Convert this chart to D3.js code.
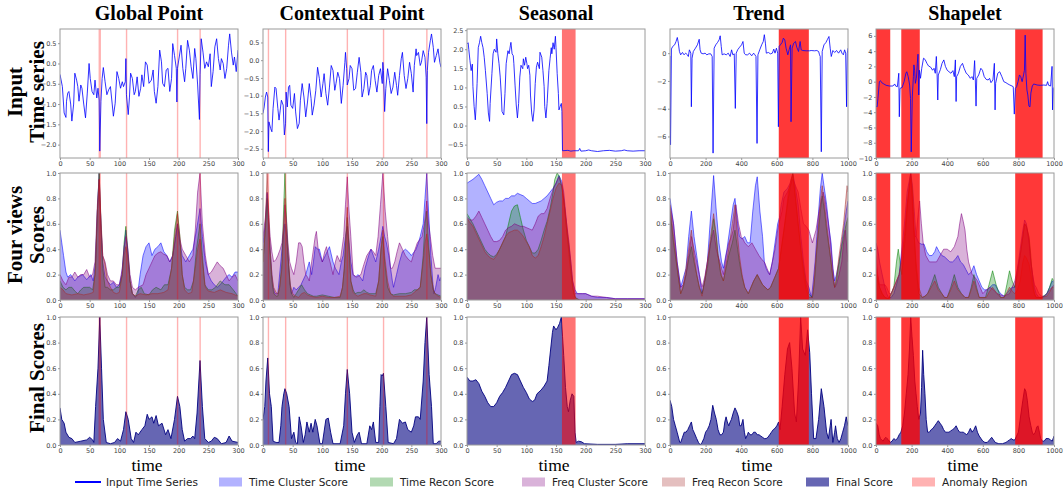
<!DOCTYPE html>
<html>
<head>
<meta charset="utf-8">
<script src="https://cdn.jsdelivr.net/npm/d3@7"></script>
<style>
body { margin: 0; background: #fff; }
.tick text { font-family: "DejaVu Sans", sans-serif; font-size: 6.5px; fill: #444; }
</style>
</head>
<body>
<div id="chart-area"></div>
<script>
// ---------------- data ----------------
const titles = ["Global Point", "Contextual Point", "Seasonal", "Trend", "Shapelet"]
const xMax = [300, 300, 300, 1000, 1000]
const xTicks = [
	[0, 50, 100, 150, 200, 250, 300], [0, 50, 100, 150, 200, 250, 300], [0, 50, 100, 150, 200, 250, 300],
	[0, 200, 400, 600, 800, 1000], [0, 200, 400, 600, 800, 1000]
]
const inputYDomain = [[-2.33, 0.85], [-2.76, 0.88], [-0.85, 2.53], [-7.55, 1.74], [-10, 6.9]]
const inputYTicks = [
	[-2.0, -1.5, -1.0, -0.5, 0.0, 0.5], [-2.5, -2.0, -1.5, -1.0, -0.5, 0.0, 0.5], [-0.5, 0.0, 0.5, 1.0, 1.5, 2.0, 2.5],
	[-6, -4, -2, 0], [-10, -8, -6, -4, -2, 0, 2, 4, 6]
]
const scoreTicks = [0.0, 0.2, 0.4, 0.6, 0.8, 1.0]

// anomaly regions [start, end]
const anomGlobal = [[65, 69], [111, 113], [197, 199], [235, 236]]
const anomContext = [[8, 10], [37, 39], [141, 143], [202, 203], [275, 276]]
const anomSeasonal = [[160, 183]]
const anomTrend = [[611, 780]]
const anomShapelet = [[0, 80], [142, 246], [782, 936]]

// input time series [t, value]
const inputGlobal = [[0,-0.27],[4,-0.57],[7,-1.22],[10,-1.33],[11,-0.93],[13,-0.73],[15,-0.69],[18,-1.0],[20,-1.42],[23,-1.0],[25,-0.24],[28,-0.41],[30,-0.57],[32,-0.93],[35,-0.53],[37,-0.61],[40,-1.0],[43,-1.34],[46,-0.73],[49,0.0],[51,-0.37],[54,-0.69],[57,-0.77],[59,-0.41],[62,-0.85],[64,-0.61],[66,-0.9],[67,-2.16],[69,-0.93],[71,-0.37],[73,-0.1],[76,-0.45],[79,-0.77],[82,-0.65],[85,-0.57],[88,-1.0],[90,-1.3],[93,-0.98],[96,-0.2],[99,-0.37],[102,-0.61],[105,-0.45],[107,-0.57],[110,-0.45],[111,0.12],[112,-0.77],[115,-1.26],[117,-0.85],[119,-0.24],[122,-0.37],[125,-0.77],[127,-0.69],[130,-0.33],[133,-0.81],[136,-0.61],[138,-0.28],[141,-0.57],[144,0.04],[147,-0.04],[150,-0.49],[154,-0.41],[157,-0.16],[159,-0.69],[162,-0.98],[165,-0.57],[168,0.33],[171,0.04],[173,-0.49],[176,-0.57],[179,-0.16],[182,-0.12],[185,-0.69],[188,-0.37],[190,0.49],[193,0.2],[196,-0.12],[197,-0.95],[198,-0.12],[201,0.16],[204,0.45],[207,-0.12],[210,-0.45],[212,-0.12],[215,0.57],[218,0.33],[221,-0.08],[224,-0.37],[227,0.37],[229,0.12],[232,-0.53],[235,-1.38],[236,-0.28],[238,0.61],[241,0.28],[244,-0.12],[247,0.04],[250,-0.08],[253,0.24],[255,-0.57],[258,-0.2],[261,0.41],[264,0.61],[267,0.12],[270,-0.16],[272,0.12],[275,0.0],[278,-0.37],[281,-0.12],[284,0.45],[286,0.73],[289,0.28],[292,-0.04],[294,0.16],[297,-0.2],[300,0.33]]
const inputContext = [[0,-1.5],[2,-1.32],[4,-1.04],[6,-0.9],[8,-1.04],[9,-2.58],[10,-1.74],[13,-1.93],[15,-2.02],[17,-1.36],[20,-0.76],[22,-0.8],[25,-1.36],[27,-1.69],[29,-1.41],[31,-1.13],[34,-1.27],[36,-2.11],[38,-1.78],[39,-0.9],[41,-1.32],[43,-0.76],[45,-0.71],[47,-1.27],[50,-1.36],[53,-0.94],[55,-1.46],[58,-1.93],[61,-1.78],[63,-1.13],[66,-0.66],[69,-1.04],[72,-1.6],[75,-1.18],[78,-0.66],[81,-1.08],[83,-1.55],[86,-1.27],[89,-0.85],[92,-0.2],[95,-0.52],[98,-1.04],[101,-0.66],[103,-0.38],[106,-0.94],[109,-1.27],[112,-0.76],[115,-0.15],[118,-0.29],[121,-0.85],[123,-0.66],[126,-0.34],[129,-0.52],[132,-1.22],[135,-0.71],[138,-0.06],[139,0.22],[141,-0.24],[142,-0.7],[145,-0.52],[147,-0.15],[150,-0.24],[153,-0.85],[156,-0.8],[159,-0.34],[162,0.08],[165,-0.34],[167,-1.04],[170,-0.8],[173,-0.34],[175,-0.43],[178,-0.99],[181,-0.71],[183,-0.29],[186,-0.15],[189,-0.57],[192,-0.9],[195,-0.43],[198,-0.24],[201,-0.66],[202,-0.06],[203,-0.29],[205,-1.45],[207,-0.8],[210,-0.24],[213,-0.57],[216,-0.94],[219,-0.76],[222,-0.34],[225,-0.71],[227,-0.99],[230,-0.43],[233,0.04],[235,0.22],[238,-0.43],[241,-0.8],[244,-0.52],[247,-0.06],[250,-0.38],[253,-0.9],[255,-0.15],[258,0.32],[259,0.13],[262,0.22],[265,-0.15],[267,-0.06],[270,0.27],[273,0.08],[275,-0.48],[276,-1.79],[277,-0.29],[279,0.22],[282,0.55],[284,0.74],[287,0.36],[289,-0.06],[292,0.13],[295,0.32],[298,-0.06],[300,-0.2]]
const inputSeasonal = [[0,2.14],[2,2.17],[3,2.0],[5,1.7],[7,1.44],[9,1.61],[10,1.02],[12,0.5],[14,0.15],[15,0.41],[17,1.1],[19,2.04],[21,2.17],[23,2.34],[25,2.17],[27,2.04],[29,1.79],[31,1.44],[34,0.84],[36,0.33],[38,0.11],[39,0.58],[42,1.36],[44,1.88],[46,2.0],[49,1.92],[50,2.27],[52,1.88],[54,1.62],[56,1.27],[58,0.75],[59,0.37],[62,0.28],[64,0.84],[66,1.62],[69,1.96],[71,1.88],[73,2.09],[74,2.18],[76,1.88],[78,1.83],[79,1.62],[81,1.06],[83,0.54],[85,0.2],[87,0.58],[89,1.27],[91,1.58],[94,1.49],[95,1.75],[97,1.58],[99,1.79],[101,1.62],[102,1.49],[104,1.58],[106,1.32],[107,0.8],[109,0.33],[111,0.11],[113,0.41],[115,1.1],[117,1.53],[119,1.66],[122,1.49],[123,1.92],[126,1.79],[128,1.44],[130,1.02],[131,0.5],[133,0.2],[135,0.58],[138,1.44],[140,1.75],[142,2.04],[143,1.88],[145,2.17],[147,2.0],[149,2.34],[150,2.04],[152,1.36],[154,0.84],[155,0.41],[157,0.5],[159,0.58],[160,0.37],[161,-0.66],[170,-0.65],[175,-0.67],[180,-0.66],[188,-0.66],[190,-0.6],[192,-0.67],[200,-0.66],[205,-0.64],[210,-0.66],[220,-0.68],[230,-0.66],[240,-0.65],[250,-0.67],[260,-0.66],[265,-0.64],[270,-0.66],[280,-0.67],[290,-0.66],[300,-0.66]]
const inputTrend = [[0,-0.2],[3,-6.6],[8,0.3],[15,0.48],[26,0.6],[34,0.84],[41,1.13],[47,0.72],[53,0.12],[60,-0.12],[70,0.05],[79,-0.12],[88,0],[98,-0.12],[103,-0.24],[109,0.24],[117,0],[120,-3.86],[124,-0.36],[131,0.12],[143,0.36],[154,0.6],[164,1.0],[169,0.24],[175,0],[186,-0.05],[197,0],[207,-0.12],[218,-0.05],[229,-0.05],[237,-0.24],[242,-7.2],[248,0.36],[257,0.6],[267,0.77],[276,0.96],[282,1.25],[288,0.48],[293,-0.12],[304,-0.05],[316,-0.12],[327,0],[338,-0.24],[346,0.24],[353,-0.12],[361,-0.05],[367,-3.98],[372,0],[380,0.24],[391,0.43],[402,0.6],[410,0.84],[417,0],[425,-0.12],[436,-0.12],[447,0],[459,-0.19],[470,0],[477,-0.12],[483,-0.24],[489,-6.5],[494,-0.12],[504,0.24],[515,0.6],[524,0.84],[530,1.33],[536,0.72],[541,0],[553,0.05],[564,-0.05],[575,0],[583,0.29],[590,0],[598,0.36],[605,0],[609,-5.3],[613,0.48],[620,0.6],[630,0.77],[637,1.08],[645,0.96],[652,0.36],[662,-0.12],[669,0.24],[677,0.6],[680,-4.94],[686,0.36],[695,0.72],[705,0.84],[712,0.43],[722,0.12],[731,0.84],[737,0.24],[746,0.19],[765,0.17],[784,0.17],[793,0.19],[812,0.17],[825,0.19],[835,0.12],[840,-0.12],[844,-0.24],[850,-7.1],[855,0.12],[865,0.6],[876,0.77],[885,1.0],[893,1.2],[900,0.36],[906,-0.24],[915,0.19],[925,0.05],[936,0.19],[947,0],[959,0.24],[966,0],[974,-0.12],[981,0.24],[987,0],[992,-3.86],[996,0],[1000,0.36]]
const inputShapelet = [[0,-3.2],[6,-3.3],[11,-2.2],[19,0],[25,0.13],[32,-0.13],[44,-0.3],[57,-0.48],[76,-0.57],[95,-0.57],[105,-0.3],[110,-0.57],[120,-0.66],[128,1.1],[131,-4.6],[135,-0.88],[147,-0.75],[158,0],[168,1.1],[173,1.3],[181,0.66],[189,-0.44],[194,-2.2],[198,-9.2],[204,-2.0],[210,0.66],[213,2.2],[217,1.5],[221,-0.22],[227,0.44],[232,2.4],[236,3.6],[240,-1.75],[244,1.5],[250,0.44],[257,1.75],[267,3.07],[276,2.9],[286,2.4],[295,2.06],[307,1.9],[318,1.5],[326,1.75],[333,1.1],[339,3.3],[343,1.1],[347,-2.4],[350,0.88],[362,1.6],[371,2.4],[381,2.85],[390,2.0],[400,1.5],[410,1.3],[421,1.1],[432,1.45],[440,0.66],[446,2.85],[450,-2.6],[453,0.66],[463,1.1],[474,2.0],[486,2.4],[495,1.75],[507,1.1],[518,0.88],[530,0.44],[539,0.66],[547,0.22],[554,2.76],[558,0.22],[562,-3.2],[566,0.44],[577,0.88],[589,1.75],[598,1.5],[608,0.66],[619,0.3],[630,0.22],[638,0.44],[646,-0.13],[657,0.22],[665,2.4],[669,-3.7],[672,-0.22],[684,1.1],[695,1.3],[707,0.66],[718,0],[730,-0.13],[741,-0.3],[752,-0.44],[764,-0.57],[771,-0.66],[777,-4.25],[783,-0.88],[790,-0.66],[798,0],[806,0.88],[813,0.66],[821,0],[829,0.88],[834,1.5],[838,6.1],[842,1.1],[848,-1.1],[853,-1.75],[859,-3.2],[865,-3.3],[870,-1.5],[878,-0.57],[886,-0.3],[905,-0.44],[924,-0.48],[943,-0.44],[958,-0.48],[964,0],[970,-0.48],[981,-0.57],[989,2.0],[992,-3.7],[996,-0.88],[1000,-0.75]]

// four view scores: time cluster, time recon, freq cluster, freq recon
const gTimeCluster = [[0,0.55],[3,0.45],[6,0.35],[10,0.22],[13,0.18],[18,0.2],[25,0.15],[30,0.18],[38,0.2],[45,0.16],[52,0.2],[56,0.15],[60,0.3],[63,0.7],[66,1.0],[69,0.6],[72,0.3],[76,0.18],[80,0.15],[85,0.12],[90,0.14],[95,0.1],[100,0.12],[104,0.2],[108,0.4],[111,0.55],[114,0.4],[118,0.15],[122,0.05],[127,0.02],[131,0.05],[135,0.2],[140,0.35],[145,0.42],[150,0.45],[155,0.35],[160,0.4],[165,0.42],[170,0.45],[175,0.38],[180,0.35],[185,0.3],[190,0.35],[195,0.5],[198,0.6],[202,0.45],[206,0.35],[212,0.3],[218,0.35],[224,0.4],[230,0.55],[236,0.72],[240,0.5],[245,0.3],[250,0.2],[255,0.15],[260,0.12],[265,0.1],[270,0.12],[275,0.15],[280,0.18],[285,0.2],[290,0.18],[295,0.22],[300,0.22]]
const gTimeRecon = [[0,0.15],[5,0.1],[10,0.08],[15,0.1],[20,0.1],[25,0.07],[30,0.05],[35,0.08],[40,0.1],[45,0.1],[50,0.1],[55,0.08],[59,0.2],[63,0.7],[66,1.0],[69,0.6],[72,0.25],[76,0.1],[80,0.1],[85,0.08],[90,0.08],[95,0.1],[100,0.1],[105,0.2],[108,0.45],[111,0.58],[114,0.4],[118,0.15],[122,0.05],[127,0.03],[132,0.08],[137,0.1],[142,0.05],[150,0.04],[156,0.08],[162,0.1],[170,0.08],[176,0.12],[182,0.12],[188,0.25],[193,0.55],[198,0.7],[202,0.5],[206,0.2],[210,0.1],[215,0.08],[220,0.08],[225,0.15],[230,0.4],[236,0.6],[240,0.35],[244,0.12],[250,0.08],[256,0.08],[262,0.1],[270,0.15],[278,0.12],[285,0.12],[292,0.08],[300,0.03]]
const gFreqCluster = [[0,0.2],[5,0.15],[10,0.12],[15,0.18],[20,0.18],[25,0.22],[30,0.18],[35,0.2],[40,0.2],[45,0.24],[50,0.18],[55,0.2],[59,0.3],[63,0.75],[66,0.95],[69,0.6],[72,0.35],[76,0.3],[80,0.2],[85,0.15],[90,0.15],[95,0.12],[100,0.12],[105,0.25],[108,0.42],[111,0.5],[114,0.42],[118,0.2],[122,0.1],[127,0.08],[132,0.1],[140,0.12],[145,0.2],[150,0.25],[155,0.3],[160,0.35],[165,0.37],[170,0.38],[175,0.36],[180,0.35],[185,0.3],[190,0.35],[195,0.5],[198,0.6],[202,0.48],[206,0.4],[212,0.35],[218,0.3],[224,0.35],[228,0.55],[232,0.85],[236,1.0],[240,0.6],[245,0.35],[250,0.2],[255,0.22],[260,0.26],[265,0.3],[270,0.27],[275,0.25],[280,0.2],[285,0.15],[290,0.18],[295,0.2],[300,0.15]]
const gFreqRecon = [[0,0.1],[5,0.08],[10,0.05],[20,0.04],[30,0.05],[40,0.04],[50,0.05],[56,0.06],[60,0.25],[63,0.7],[66,0.95],[69,0.65],[72,0.35],[76,0.28],[80,0.15],[85,0.1],[90,0.06],[95,0.05],[100,0.06],[105,0.2],[108,0.35],[111,0.42],[114,0.35],[118,0.15],[122,0.05],[127,0.03],[135,0.05],[145,0.04],[155,0.05],[165,0.05],[175,0.06],[182,0.08],[188,0.25],[193,0.5],[198,0.68],[202,0.5],[206,0.2],[210,0.08],[216,0.05],[222,0.06],[228,0.25],[232,0.4],[236,0.48],[240,0.3],[245,0.1],[250,0.07],[260,0.06],[270,0.08],[280,0.06],[290,0.05],[300,0.03]]

const cTimeCluster = [[0,0.45],[4,0.6],[7,0.84],[10,0.55],[12,0.4],[15,0.2],[17,0.1],[20,0.05],[25,0.05],[30,0.3],[34,0.5],[37,0.6],[40,0.5],[42,0.35],[45,0.15],[48,0.05],[52,0.1],[56,0.08],[60,0.1],[64,0.12],[67,0.15],[72,0.2],[78,0.3],[82,0.2],[85,0.3],[88,0.42],[92,0.4],[95,0.4],[100,0.3],[105,0.35],[108,0.38],[112,0.42],[118,0.3],[122,0.25],[128,0.2],[132,0.3],[135,0.35],[139,0.5],[142,0.58],[145,0.45],[148,0.3],[152,0.2],[156,0.18],[160,0.2],[164,0.18],[168,0.15],[172,0.25],[175,0.3],[178,0.35],[182,0.4],[186,0.35],[190,0.3],[195,0.4],[199,0.5],[202,0.58],[205,0.5],[208,0.45],[212,0.35],[215,0.25],[218,0.15],[220,0.1],[225,0.2],[230,0.3],[235,0.38],[240,0.4],[245,0.38],[250,0.35],[255,0.38],[258,0.4],[262,0.45],[265,0.5],[270,0.6],[273,0.8],[276,1.0],[279,0.7],[283,0.35],[286,0.15],[288,0.05],[291,0.1],[295,0.2],[298,0.15],[300,0.18]]
const cTimeRecon = [[0,0.3],[4,0.55],[7,0.8],[10,0.55],[12,0.35],[15,0.15],[18,0.05],[22,0.03],[25,0.03],[28,0.1],[32,0.3],[35,0.75],[37,1.0],[40,0.6],[43,0.3],[46,0.1],[48,0.05],[52,0.02],[56,0.05],[60,0.08],[65,0.12],[70,0.08],[75,0.05],[80,0.04],[85,0.03],[90,0.03],[100,0.04],[110,0.03],[120,0.02],[130,0.02],[134,0.1],[137,0.25],[140,0.5],[142,0.65],[145,0.4],[148,0.15],[152,0.08],[155,0.05],[160,0.06],[165,0.06],[170,0.08],[175,0.06],[180,0.05],[190,0.05],[195,0.15],[199,0.4],[202,0.5],[205,0.3],[210,0.1],[215,0.05],[220,0.04],[230,0.05],[240,0.05],[250,0.06],[255,0.08],[260,0.08],[265,0.1],[270,0.35],[273,0.6],[276,0.7],[279,0.45],[283,0.2],[287,0.08],[290,0.05],[295,0.04],[300,0.03]]
const cFreqCluster = [[0,0.5],[4,0.65],[7,0.85],[10,0.65],[12,0.5],[15,0.38],[18,0.3],[22,0.32],[25,0.35],[29,0.4],[32,0.45],[35,0.6],[37,0.75],[40,0.6],[42,0.45],[45,0.3],[48,0.25],[52,0.2],[56,0.3],[60,0.45],[63,0.45],[66,0.42],[69,0.3],[72,0.2],[75,0.18],[78,0.15],[82,0.3],[85,0.4],[88,0.5],[90,0.54],[93,0.4],[96,0.35],[100,0.3],[104,0.38],[107,0.42],[110,0.35],[113,0.3],[118,0.2],[122,0.3],[125,0.35],[130,0.3],[133,0.4],[136,0.5],[139,0.75],[142,0.97],[145,0.7],[148,0.5],[152,0.2],[158,0.18],[165,0.2],[170,0.28],[175,0.35],[182,0.4],[186,0.38],[190,0.35],[194,0.5],[198,0.75],[202,1.0],[206,0.7],[210,0.5],[215,0.25],[218,0.25],[222,0.3],[226,0.38],[230,0.45],[235,0.4],[240,0.35],[245,0.32],[250,0.3],[255,0.38],[260,0.45],[265,0.48],[268,0.5],[272,0.6],[276,0.78],[279,0.6],[282,0.5],[286,0.35],[290,0.25],[295,0.25],[300,0.25]]
const cFreqRecon = [[0,0.3],[4,0.6],[7,1.0],[10,0.65],[12,0.4],[15,0.2],[18,0.1],[22,0.06],[25,0.05],[28,0.1],[32,0.25],[35,0.6],[37,0.8],[40,0.5],[43,0.3],[46,0.12],[50,0.05],[55,0.03],[60,0.02],[65,0.05],[70,0.06],[75,0.04],[80,0.03],[90,0.02],[100,0.03],[110,0.02],[120,0.02],[130,0.03],[134,0.1],[137,0.25],[140,0.55],[142,0.73],[145,0.45],[148,0.15],[152,0.06],[156,0.04],[160,0.03],[165,0.04],[170,0.05],[175,0.05],[180,0.04],[190,0.03],[195,0.15],[199,0.42],[202,0.55],[205,0.35],[210,0.15],[215,0.05],[220,0.03],[230,0.03],[240,0.03],[250,0.04],[255,0.06],[260,0.08],[265,0.1],[270,0.3],[273,0.45],[276,0.52],[279,0.4],[283,0.2],[287,0.08],[290,0.05],[295,0.03],[300,0.02]]

const sTimeCluster = [[0,0.92],[10,0.95],[20,0.99],[25,0.95],[30,0.9],[35,0.85],[40,0.8],[45,0.75],[50,0.77],[55,0.78],[60,0.78],[65,0.8],[70,0.8],[75,0.82],[80,0.82],[85,0.84],[90,0.83],[95,0.82],[100,0.8],[105,0.78],[110,0.76],[115,0.76],[120,0.77],[125,0.78],[130,0.8],[135,0.82],[140,0.85],[145,0.88],[150,0.92],[155,0.98],[160,0.93],[163,0.85],[166,0.7],[170,0.5],[175,0.3],[178,0.15],[182,0.08],[186,0.05],[195,0.05],[200,0.05],[210,0.03],[220,0.02],[235,0.02],[250,0.01],[270,0.01],[300,0.01]]
const sTimeRecon = [[0,0.68],[5,0.64],[10,0.6],[15,0.55],[20,0.5],[25,0.45],[30,0.4],[35,0.37],[40,0.35],[45,0.34],[50,0.36],[55,0.4],[60,0.45],[65,0.5],[70,0.6],[75,0.7],[80,0.74],[85,0.75],[90,0.65],[95,0.55],[100,0.47],[105,0.42],[110,0.37],[115,0.37],[120,0.4],[125,0.47],[130,0.55],[135,0.62],[140,0.72],[145,0.85],[148,0.95],[152,1.0],[156,0.97],[160,0.88],[164,0.75],[168,0.55],[172,0.4],[175,0.25],[178,0.1],[182,0.02],[190,0],[300,0]]
const sFreqCluster = [[0,0.65],[5,0.63],[10,0.63],[15,0.66],[20,0.7],[25,0.65],[30,0.6],[35,0.55],[40,0.5],[45,0.46],[50,0.46],[55,0.47],[60,0.5],[65,0.55],[70,0.57],[75,0.58],[80,0.6],[85,0.59],[90,0.58],[95,0.58],[100,0.57],[105,0.56],[110,0.55],[115,0.6],[120,0.66],[125,0.68],[130,0.68],[135,0.72],[140,0.8],[145,0.87],[150,0.92],[155,0.97],[160,0.9],[164,0.75],[168,0.6],[172,0.45],[175,0.3],[178,0.15],[182,0.05],[186,0.05],[195,0.05],[200,0.05],[210,0.03],[220,0.03],[235,0.02],[250,0.01],[270,0.01],[300,0.01]]
const sFreqRecon = [[0,0.64],[5,0.61],[10,0.58],[15,0.53],[20,0.48],[25,0.43],[30,0.38],[35,0.35],[40,0.33],[45,0.32],[50,0.35],[55,0.4],[60,0.45],[65,0.5],[70,0.53],[75,0.54],[80,0.55],[85,0.55],[90,0.53],[95,0.5],[100,0.46],[105,0.42],[110,0.35],[115,0.33],[120,0.35],[125,0.42],[130,0.5],[135,0.6],[140,0.7],[145,0.8],[150,0.88],[155,0.92],[160,0.9],[163,0.8],[166,0.65],[170,0.45],[173,0.3],[176,0.18],[180,0.05],[184,0.01],[190,0],[300,0]]

const tTimeCluster = [[0,0.8],[20,0.6],[40,0.3],[60,0.1],[90,0.25],[105,0.5],[120,0.7],[135,0.5],[150,0.35],[165,0.2],[180,0.05],[195,0.15],[210,0.3],[225,0.6],[245,0.98],[260,0.7],[275,0.45],[290,0.3],[300,0.25],[320,0.4],[340,0.6],[355,0.75],[365,0.8],[380,0.6],[390,0.5],[405,0.48],[420,0.5],[435,0.45],[450,0.45],[465,0.7],[480,0.9],[490,0.97],[505,0.7],[520,0.5],[530,0.3],[540,0.25],[550,0.22],[560,0.2],[575,0.3],[590,0.45],[605,0.6],[615,0.65],[625,0.75],[640,0.85],[660,0.88],[675,0.92],[690,1.0],[705,0.88],[720,0.75],[735,0.5],[750,0.3],[765,0.15],[780,0.1],[795,0.02],[805,0.15],[815,0.3],[825,0.5],[835,0.7],[845,0.88],[855,1.0],[865,0.9],[880,0.75],[895,0.55],[905,0.45],[915,0.25],[925,0.15],[935,0.2],[950,0.3],[965,0.45],[975,0.55],[990,0.7],[1000,0.78]]
const tTimeRecon = [[0,0.7],[20,0.45],[45,0.2],[60,0.05],[75,0.1],[90,0.2],[105,0.32],[120,0.42],[135,0.3],[150,0.2],[165,0.1],[180,0.05],[195,0.15],[210,0.25],[228,0.45],[245,0.64],[260,0.5],[270,0.35],[285,0.2],[300,0.15],[315,0.25],[330,0.35],[350,0.45],[365,0.55],[380,0.4],[390,0.3],[405,0.18],[420,0.1],[440,0.05],[455,0.1],[470,0.15],[490,0.2],[505,0.16],[520,0.12],[535,0.1],[550,0.08],[565,0.1],[580,0.15],[595,0.2],[610,0.25],[625,0.4],[640,0.55],[655,0.7],[665,0.8],[680,0.92],[690,1.0],[705,0.8],[720,0.6],[735,0.4],[750,0.25],[765,0.12],[780,0.05],[800,0.02],[808,0.1],[815,0.2],[825,0.4],[835,0.55],[845,0.7],[855,0.82],[868,0.7],[880,0.55],[895,0.4],[905,0.3],[915,0.18],[925,0.1],[935,0.15],[950,0.3],[965,0.42],[975,0.5],[990,0.6],[1000,0.65]]
const tFreqCluster = [[0,0.75],[20,0.6],[40,0.3],[60,0.1],[75,0.12],[90,0.2],[105,0.35],[120,0.5],[135,0.4],[150,0.3],[165,0.2],[180,0.1],[195,0.18],[210,0.3],[228,0.45],[245,0.55],[260,0.4],[280,0.3],[300,0.2],[315,0.35],[330,0.45],[345,0.5],[355,0.55],[370,0.75],[385,0.6],[400,0.5],[410,0.48],[420,0.45],[440,0.42],[460,0.45],[480,0.4],[500,0.35],[515,0.32],[530,0.3],[545,0.25],[560,0.2],[575,0.3],[590,0.4],[605,0.55],[615,0.62],[630,0.7],[640,0.8],[660,0.85],[675,0.9],[690,0.95],[705,0.9],[720,0.85],[735,0.72],[750,0.6],[765,0.58],[780,0.55],[790,0.5],[800,0.45],[810,0.5],[820,0.55],[835,0.68],[845,0.75],[860,0.85],[870,0.8],[880,0.7],[895,0.55],[905,0.4],[915,0.25],[925,0.1],[935,0.12],[950,0.2],[965,0.3],[975,0.45],[985,0.55],[1000,0.3]]
const tFreqRecon = [[0,0.75],[20,0.5],[45,0.2],[60,0.05],[75,0.12],[90,0.25],[105,0.4],[120,0.55],[135,0.35],[150,0.2],[165,0.1],[180,0.03],[195,0.15],[210,0.3],[228,0.5],[245,0.68],[260,0.5],[270,0.35],[285,0.22],[300,0.15],[315,0.28],[330,0.4],[350,0.6],[365,0.75],[380,0.5],[390,0.35],[405,0.2],[420,0.1],[440,0.05],[455,0.1],[470,0.15],[490,0.2],[505,0.16],[520,0.12],[535,0.1],[550,0.08],[565,0.1],[580,0.15],[595,0.2],[610,0.25],[625,0.4],[640,0.55],[655,0.72],[665,0.85],[680,0.95],[690,0.98],[705,0.8],[720,0.6],[735,0.4],[750,0.2],[765,0.08],[780,0.02],[800,0.02],[808,0.12],[815,0.25],[825,0.42],[835,0.6],[845,0.78],[855,0.9],[868,0.75],[880,0.6],[895,0.42],[905,0.3],[915,0.18],[925,0.1],[935,0.18],[950,0.35],[965,0.5],[975,0.6],[985,0.75],[995,0.9],[1000,0.85]]

const hTimeCluster = [[0,0.45],[10,0.4],[20,0.3],[35,0.2],[50,0.1],[60,0.05],[70,0.02],[85,0.02],[100,0.05],[115,0.12],[130,0.2],[145,0.4],[160,0.6],[175,0.85],[195,1.0],[205,0.9],[215,0.7],[225,0.5],[240,0.45],[255,0.44],[270,0.44],[285,0.38],[300,0.35],[315,0.35],[330,0.38],[340,0.42],[355,0.38],[370,0.35],[385,0.34],[400,0.32],[415,0.3],[430,0.3],[445,0.32],[460,0.35],[475,0.3],[490,0.28],[505,0.24],[520,0.2],[535,0.22],[550,0.27],[565,0.2],[580,0.15],[595,0.1],[610,0.08],[625,0.08],[640,0.1],[655,0.12],[670,0.12],[685,0.08],[700,0.05],[720,0.03],[735,0.05],[750,0.08],[765,0.1],[780,0.1],[795,0.25],[810,0.4],[825,0.55],[835,0.63],[845,0.6],[860,0.45],[870,0.3],[880,0.2],[890,0.1],[900,0.05],[915,0.02],[930,0.02],[945,0.03],[960,0.05],[975,0.1],[990,0.15],[1000,0.14]]
const hTimeRecon = [[0,0.2],[10,0.15],[20,0.1],[35,0.05],[50,0.02],[70,0.01],[85,0.05],[100,0.1],[115,0.3],[125,0.4],[135,0.3],[145,0.2],[155,0.35],[165,0.5],[180,0.8],[195,1.0],[205,0.85],[215,0.5],[225,0.25],[240,0.05],[260,0.02],[275,0.03],[290,0.05],[310,0.12],[330,0.2],[350,0.1],[370,0.05],[385,0.02],[400,0.02],[420,0.1],[440,0.2],[460,0.1],[480,0.05],[500,0.02],[520,0.02],[535,0.1],[550,0.2],[565,0.1],[580,0.02],[600,0.02],[615,0.02],[635,0.12],[655,0.23],[675,0.12],[700,0.02],[720,0.02],[735,0.12],[750,0.23],[765,0.15],[780,0.1],[795,0.2],[810,0.35],[825,0.5],[835,0.6],[845,0.58],[860,0.5],[870,0.35],[880,0.15],[890,0.05],[900,0.02],[930,0.02],[960,0.05],[975,0.1],[990,0.17],[1000,0.15]]
const hFreqCluster = [[0,0.35],[10,0.2],[20,0.12],[35,0.12],[50,0.12],[60,0.1],[75,0.05],[85,0.05],[100,0.1],[115,0.15],[130,0.2],[145,0.35],[160,0.5],[175,0.75],[195,1.0],[203,0.8],[210,0.6],[218,0.5],[225,0.5],[235,0.65],[245,0.78],[255,0.6],[265,0.45],[280,0.35],[300,0.3],[320,0.3],[340,0.3],[360,0.35],[380,0.4],[400,0.4],[420,0.38],[440,0.42],[460,0.5],[470,0.6],[480,0.68],[490,0.62],[500,0.55],[510,0.4],[520,0.3],[530,0.25],[540,0.2],[555,0.18],[570,0.15],[585,0.1],[600,0.05],[620,0.08],[640,0.1],[660,0.08],[680,0.05],[700,0.04],[720,0.03],[735,0.04],[750,0.05],[765,0.1],[780,0.15],[795,0.25],[810,0.35],[825,0.5],[835,0.6],[845,0.58],[860,0.48],[870,0.3],[880,0.2],[890,0.12],[900,0.1],[915,0.05],[930,0.03],[945,0.03],[960,0.05],[975,0.08],[990,0.1],[1000,0.12]]
const hFreqRecon = [[0,0.25],[10,0.18],[20,0.1],[35,0.05],[50,0.02],[70,0.01],[85,0.05],[100,0.1],[115,0.15],[130,0.2],[145,0.3],[160,0.5],[175,0.75],[195,0.95],[205,0.8],[215,0.5],[225,0.3],[240,0.1],[260,0.02],[275,0.03],[290,0.05],[310,0.1],[330,0.15],[350,0.08],[370,0.05],[385,0.02],[400,0.02],[420,0.08],[440,0.15],[460,0.08],[480,0.05],[500,0.02],[520,0.02],[535,0.08],[550,0.15],[565,0.08],[580,0.02],[600,0.02],[620,0.02],[635,0.06],[655,0.1],[675,0.06],[700,0.02],[720,0.02],[735,0.06],[750,0.1],[765,0.07],[780,0.05],[795,0.08],[810,0.15],[825,0.3],[835,0.35],[845,0.33],[860,0.28],[870,0.2],[880,0.1],[890,0.05],[900,0.02],[930,0.02],[960,0.03],[975,0.06],[990,0.1],[1000,0.1]]

// final scores
const gFinal = [[0,0.29],[3,0.2],[7,0.17],[10,0.1],[15,0.06],[20,0.05],[25,0.02],[35,0.03],[45,0.04],[50,0.06],[55,0.04],[57,0.02],[60,0.3],[64,0.6],[67,1.0],[70,0.6],[73,0.2],[78,0.02],[85,0.01],[92,0.02],[97,0.05],[102,0.03],[107,0.12],[111,0.26],[115,0.2],[120,0.05],[124,0.02],[128,0.1],[132,0.08],[138,0.12],[143,0.15],[147,0.24],[150,0.2],[155,0.22],[158,0.17],[162,0.23],[166,0.15],[172,0.17],[178,0.08],[182,0.12],[187,0.05],[193,0.2],[198,0.38],[202,0.3],[206,0.12],[210,0.03],[215,0.05],[220,0.05],[224,0.07],[227,0.05],[231,0.25],[236,0.66],[240,0.3],[244,0.05],[250,0.02],[255,0.03],[260,0.06],[265,0.05],[272,0.01],[280,0.02],[285,0.07],[290,0.03],[300,0.02]]
const cFinal = [[0,0.2],[3,0.3],[5,0.5],[8,0.68],[11,0.4],[14,0.3],[17,0.03],[22,0.02],[27,0.02],[30,0.15],[32,0.3],[35,0.4],[37,0.44],[40,0.4],[44,0.3],[48,0.05],[52,0.1],[55,0.02],[58,0.01],[61,0.22],[64,0.15],[68,0.02],[71,0.08],[74,0.18],[78,0.1],[81,0.17],[84,0.1],[88,0.2],[91,0.15],[96,0.01],[100,0.01],[106,0.2],[110,0.21],[114,0.1],[118,0.01],[130,0.01],[136,0.15],[139,0.4],[142,0.59],[146,0.4],[150,0.1],[154,0.02],[159,0.08],[162,0.1],[166,0.01],[175,0.01],[180,0.15],[183,0.12],[186,0.18],[190,0.02],[195,0.02],[197,0.3],[199,0.55],[201,0.54],[203,0.56],[207,0.3],[211,0.02],[220,0.01],[225,0.05],[230,0.2],[235,0.17],[240,0.18],[244,0.12],[250,0.1],[254,0.15],[257,0.22],[262,0.22],[265,0.2],[270,0.5],[273,0.8],[276,1.0],[280,0.55],[284,0.3],[287,0.01],[292,0.01],[296,0.03],[300,0.03]]
const sFinal = [[0,0.53],[5,0.5],[10,0.5],[15,0.51],[20,0.48],[25,0.42],[30,0.38],[35,0.33],[40,0.3],[45,0.3],[50,0.33],[55,0.38],[60,0.41],[65,0.45],[70,0.5],[75,0.55],[80,0.56],[85,0.55],[90,0.5],[95,0.45],[100,0.41],[105,0.36],[110,0.34],[114,0.35],[118,0.4],[125,0.43],[130,0.46],[135,0.5],[138,0.62],[141,0.75],[144,0.88],[146,0.93],[150,0.9],[153,0.92],[156,0.95],[159,1.0],[161,0.85],[163,0.7],[166,0.45],[169,0.3],[171,0.26],[174,0.35],[177,0.4],[180,0.38],[182,0.1],[184,0.02],[188,0.03],[193,0.025],[198,0.01],[220,0.005],[250,0.005],[270,0.01],[300,0.01]]
const tFinal = [[0,0.35],[10,0.3],[20,0.2],[30,0.15],[40,0.1],[55,0.02],[60,0.02],[70,0.06],[80,0.1],[90,0.1],[100,0.12],[110,0.15],[120,0.18],[128,0.12],[135,0.1],[150,0.05],[160,0.02],[170,0],[180,0.02],[190,0.05],[200,0.1],[210,0.12],[220,0.15],[230,0.2],[240,0.31],[250,0.25],[260,0.2],[270,0.12],[280,0.08],[290,0.08],[300,0.1],[308,0.18],[315,0.22],[322,0.18],[330,0.15],[338,0.18],[345,0.2],[355,0.25],[365,0.29],[375,0.26],[385,0.22],[392,0.15],[400,0.15],[410,0.2],[418,0.1],[425,0.05],[435,0.08],[440,0.1],[450,0.08],[460,0.08],[470,0.1],[480,0.1],[490,0.08],[500,0.08],[510,0.07],[520,0.06],[530,0.05],[540,0.05],[550,0.06],[560,0.08],[570,0.1],[580,0.12],[590,0.13],[600,0.15],[610,0.18],[618,0.12],[630,0.3],[645,0.55],[660,0.75],[672,0.8],[685,0.6],[700,0.25],[710,0.18],[722,0.5],[734,1.0],[745,0.75],[760,0.7],[773,0.9],[785,0.72],[795,0.4],[807,0.05],[820,0.05],[835,0.2],[850,0.44],[865,0.3],[880,0.1],[890,0.05],[900,0.15],[905,0.2],[915,0.02],[925,0.1],[930,0.15],[940,0.05],[950,0.02],[960,0.05],[970,0.1],[980,0.15],[990,0.22],[1000,0.15]]
const hFinal = [[0,0.17],[10,0.15],[18,0.08],[25,0.05],[32,0.04],[40,0.03],[48,0.05],[55,0.06],[62,0.05],[70,0.04],[80,0.02],[90,0.03],[100,0.05],[110,0.04],[120,0.05],[130,0.08],[140,0.1],[150,0.15],[160,0.25],[170,0.4],[180,0.55],[188,0.75],[195,1.0],[202,0.85],[210,0.7],[218,0.5],[225,0.4],[232,0.3],[240,0.2],[250,0.25],[256,0.45],[262,0.74],[268,0.55],[275,0.4],[282,0.2],[290,0.1],[300,0.1],[310,0.12],[320,0.13],[330,0.15],[340,0.17],[350,0.19],[360,0.17],[370,0.15],[380,0.12],[390,0.1],[400,0.1],[410,0.1],[420,0.11],[430,0.12],[440,0.13],[450,0.15],[460,0.12],[470,0.1],[480,0.1],[490,0.1],[500,0.09],[510,0.08],[520,0.1],[530,0.13],[540,0.1],[550,0.12],[560,0.15],[570,0.1],[580,0.07],[590,0.05],[600,0.03],[612,0.02],[625,0.02],[638,0.04],[650,0.06],[660,0.04],[670,0.02],[690,0.01],[710,0.01],[730,0.02],[740,0.03],[750,0.04],[760,0.05],[770,0.04],[780,0.04],[790,0.07],[800,0.1],[808,0.18],[815,0.25],[825,0.35],[835,0.44],[842,0.42],[850,0.35],[860,0.22],[870,0.15],[878,0.1],[885,0.08],[895,0.1],[903,0.14],[910,0.15],[918,0.1],[925,0.05],[935,0.03],[945,0.03],[955,0.05],[970,0.05],[980,0.04],[990,0.03],[1000,0.07]]

const inputs = [inputGlobal, inputContext, inputSeasonal, inputTrend, inputShapelet]
const anomalies = [anomGlobal, anomContext, anomSeasonal, anomTrend, anomShapelet]
const views = [
	[gTimeCluster, gTimeRecon, gFreqCluster, gFreqRecon],
	[cTimeCluster, cTimeRecon, cFreqCluster, cFreqRecon],
	[sTimeCluster, sTimeRecon, sFreqCluster, sFreqRecon],
	[tTimeCluster, tTimeRecon, tFreqCluster, tFreqRecon],
	[hTimeCluster, hTimeRecon, hFreqCluster, hFreqRecon]
]
const finals = [gFinal, cFinal, sFinal, tFinal, hFinal]

const viewColors = ["blue", "green", "purple", "brown"]
const legendLabels = ["Input Time Series", "Time Cluster Score", "Time Recon Score", "Freq Cluster Score", "Freq Recon Score", "Final Score", "Anomaly Region"]

// ---------------- layout ----------------
const PANEL_W = 178
const COL_LEFT = [60, 263, 467, 670, 876]
const ROW_TOP = [29, 173, 317]
const ROW_H = [129, 127, 128]
const SPAN_ALPHA = [0.3, 0.3, 0.55, 0.78, 0.78]
const SPINE = "#9a9a9a"
const SERIF = "'Liberation Serif', 'Times New Roman', serif"

const svg = d3.select("#chart-area").append("svg")
	.attr("width", 1063)
	.attr("height", 489)

const fmt1 = d3.format(".1f")
const minus = s => s.replace("-", "\u2212")

function drawPanel(col, row) {
	const h = ROW_H[row]
	const g = svg.append("g")
		.attr("transform", `translate(${COL_LEFT[col]}, ${ROW_TOP[row]})`)

	const x = d3.scaleLinear().domain([0, xMax[col]]).range([0, PANEL_W])
	const y = d3.scaleLinear().domain(row == 0 ? inputYDomain[col] : [0, 1]).range([h, 0])

	const clipId = `clip-${col}-${row}`
	g.append("clipPath").attr("id", clipId)
		.append("rect").attr("width", PANEL_W).attr("height", h)
	const plot = g.append("g").attr("clip-path", `url(#${clipId})`)

	const line = d3.line().x(d => x(d[0])).y(d => y(d[1]))
	const area = d3.area().x(d => x(d[0])).y0(h).y1(d => y(d[1]))

	const spans = () => plot.append("g").selectAll("rect")
		.data(anomalies[col]).enter().append("rect")
		.attr("x", d => x(d[0]))
		.attr("width", d => Math.max(1.4, x(d[1]) - x(d[0])))
		.attr("y", 0)
		.attr("height", h)
		.attr("fill", "red")
		.attr("opacity", SPAN_ALPHA[col])

	if (row == 0) {
		spans()
		plot.append("path")
			.attr("d", line(inputs[col]))
			.attr("fill", "none")
			.attr("stroke", "blue")
			.attr("stroke-opacity", 0.8)
			.attr("stroke-width", 1)
	} else if (row == 1) {
		views[col].forEach((s, i) => {
			plot.append("path").attr("d", area(s))
				.attr("fill", viewColors[i]).attr("fill-opacity", 0.3)
			plot.append("path").attr("d", line(s))
				.attr("fill", "none").attr("stroke", viewColors[i])
				.attr("stroke-opacity", 0.6).attr("stroke-width", 0.9)
		})
		spans()
	} else {
		plot.append("path").attr("d", area(finals[col]))
			.attr("fill", "navy").attr("fill-opacity", 0.6)
		plot.append("path").attr("d", line(finals[col]))
			.attr("fill", "none").attr("stroke", "navy").attr("stroke-width", 0.9)
		spans()
	}

	// axes
	const yTickVals = row == 0 ? inputYTicks[col] : scoreTicks
	const yFmt = (row == 0 && col >= 3) ? (d => minus(d3.format("d")(d))) : (d => minus(fmt1(d)))
	const xAxis = g.append("g")
		.attr("transform", `translate(0, ${h})`)
		.call(d3.axisBottom(x).tickValues(xTicks[col]).tickFormat(d3.format("d")).tickSize(2).tickPadding(1))
	const yAxis = g.append("g")
		.call(d3.axisLeft(y).tickValues(yTickVals).tickFormat(yFmt).tickSize(2).tickPadding(1.5))
	;[xAxis, yAxis].forEach(a => {
		a.select(".domain").remove()
		a.selectAll(".tick line").attr("stroke", SPINE)
	})

	g.append("rect")
		.attr("width", PANEL_W)
		.attr("height", h)
		.attr("fill", "none")
		.attr("stroke", SPINE)
		.attr("stroke-width", 1)
}

for (let r = 0; r < 3; r++) {
	for (let c = 0; c < 5; c++) drawPanel(c, r)
}

// column titles and x labels
titles.forEach((t, c) => {
	svg.append("text")
		.attr("x", COL_LEFT[c] + PANEL_W / 2)
		.attr("y", 20)
		.attr("text-anchor", "middle")
		.attr("font-family", SERIF)
		.attr("font-weight", "bold")
		.attr("font-size", "20px")
		.text(t)
	svg.append("text")
		.attr("x", COL_LEFT[c] + PANEL_W / 2 - 2)
		.attr("y", 470.5)
		.attr("text-anchor", "middle")
		.attr("font-family", SERIF)
		.attr("font-size", "17.5px")
		.text("time")
})

// row labels (rotated)
const rowLabels = [
	{ lines: ["Input", "Time series"], cy: 92 },
	{ lines: ["Four views", "Scores"], cy: 235 },
	{ lines: ["Final Scores"], cy: 378 }
]
rowLabels.forEach(r => {
	const xs = r.lines.length == 2 ? [22, 44] : [44]
	r.lines.forEach((l, i) => {
		svg.append("text")
			.attr("transform", `translate(${xs[i]}, ${r.cy}) rotate(-90)`)
			.attr("text-anchor", "middle")
			.attr("font-family", SERIF)
			.attr("font-weight", "bold")
			.attr("font-size", "21px")
			.text(l)
	})
})

// legend
const legendX = [75, 219, 370, 522, 662, 806, 912]
const legendFill = [null, ["blue", 0.3], ["green", 0.3], ["purple", 0.3], ["brown", 0.3], ["navy", 0.6], ["red", 0.3]]
const legendY = 482
legendLabels.forEach((lab, i) => {
	const lg = svg.append("g").attr("transform", `translate(${legendX[i]}, ${legendY})`)
	if (i == 0) {
		lg.append("line").attr("x1", 0).attr("x2", 26).attr("y1", 0).attr("y2", 0)
			.attr("stroke", "blue").attr("stroke-width", 2)
	} else {
		lg.append("rect").attr("x", 0).attr("y", -4.5).attr("width", 23).attr("height", 9)
			.attr("fill", legendFill[i][0]).attr("fill-opacity", legendFill[i][1])
	}
	lg.append("text")
		.attr("x", i == 0 ? 31 : 30)
		.attr("y", 4)
		.attr("font-family", "'DejaVu Sans', sans-serif")
		.attr("font-size", "10.5px")
		.attr("fill", "#222")
		.text(lab)
})
</script>
</body>
</html>
